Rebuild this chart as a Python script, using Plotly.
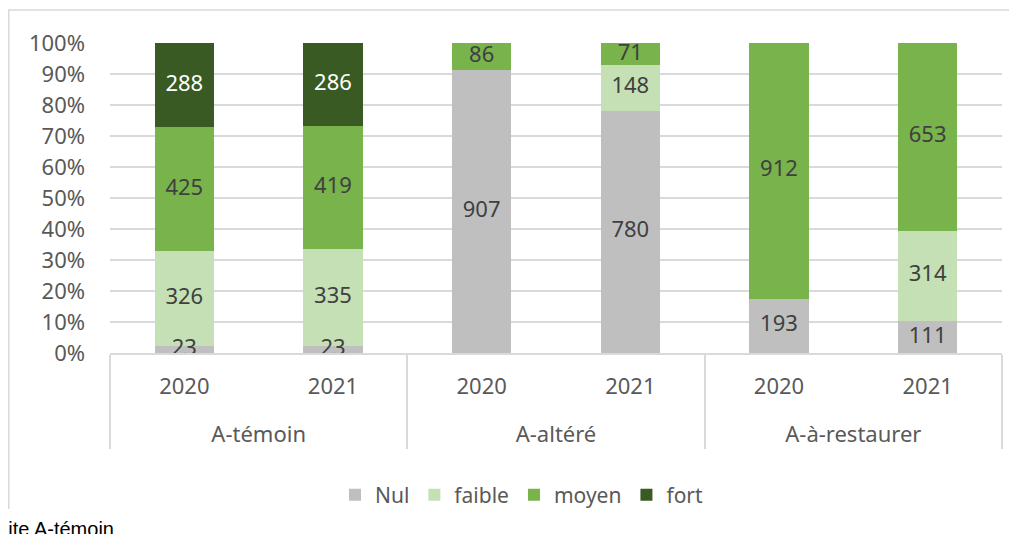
import plotly.graph_objects as go

groups = ["A-témoin", "A-témoin", "A-altéré", "A-altéré", "A-à-restaurer", "A-à-restaurer"]
years = ["2020", "2021", "2020", "2021", "2020", "2021"]

series_names = ["Nul", "faible", "moyen", "fort"]
nul = [23, 23, 907, 780, 193, 111]
faible = [326, 335, 0, 148, 0, 314]
moyen = [425, 419, 86, 71, 912, 653]
fort = [288, 286, 0, 0, 0, 0]
y_ticks = [0, 10, 20, 30, 40, 50, 60, 70, 80, 90, 100]
y_tick_labels = [f"{v}%" for v in y_ticks]

colors = ["#bfbfbf", "#c5e0b4", "#78b34b", "#3a5a24"]
text_colors = ["#404040", "#404040", "#404040", "#ffffff"]
FONT = "Noto Sans"
FS = 22

# The page body adds an 8px offset; figure coordinates below are page coords - 8
W, H = 1009, 526
L, R, T, B = 102, 994, 35, 345

all_series = [nul, faible, moyen, fort]
totals = [sum(s[i] for s in all_series) for i in range(len(years))]

# year labels get an empty second line so the group labels sit lower
year_cats = [y + "<br> " for y in years]

fig = go.Figure()
for name, vals, c in zip(series_names, all_series, colors):
    fig.add_trace(go.Bar(
        name=name,
        x=[groups, year_cats],
        y=vals,
        marker=dict(color=c, line=dict(width=0)),
        hoverinfo="skip",
    ))

# data labels, centred in each segment (percent positions computed from the data)
lab_x0, lab_x1, lab_y, lab_t, lab_c = [], [], [], [], []
bottom = [0.0] * len(years)
for vals, tc in zip(all_series, text_colors):
    for i, v in enumerate(vals):
        p = 100.0 * v / totals[i]
        if v:
            lab_x0.append(groups[i])
            lab_x1.append(year_cats[i])
            lab_y.append(bottom[i] + p / 2)
            lab_t.append(str(v))
            lab_c.append(tc)
        bottom[i] += p

fig.add_trace(go.Scatter(
    x=[lab_x0, lab_x1], y=lab_y, text=lab_t, mode="text",
    textposition="middle center",
    textfont=dict(color=lab_c, size=FS, family=FONT),
    showlegend=False, hoverinfo="skip", cliponaxis=False,
))


def px(x):
    return (x - L) / (R - L)


def py(y):
    return (B - y) / (B - T)


fig.update_layout(
    width=W, height=H,
    barmode="stack", barnorm="percent",
    bargap=0.6,
    margin=dict(l=L, r=W - R, t=T, b=H - B, pad=0),
    plot_bgcolor="white", paper_bgcolor="white",
    font=dict(family=FONT, size=FS, color="#595959"),
    showlegend=True,
    legend=dict(orientation="h", x=px(514), xanchor="center", y=py(487), yanchor="middle",
                font=dict(size=21, color="#595959", family=FONT),
                traceorder="normal"),
    xaxis=dict(
        type="multicategory",
        showline=True, linecolor="#d9d9d9", linewidth=1.5,
        showdividers=True, dividercolor="#d9d9d9", dividerwidth=1.5,
        tickfont=dict(size=FS, color="#595959", family=FONT),
        ticks="", ticklabelstandoff=13,
        showgrid=False,
    ),
    yaxis=dict(
        range=[0, 100], tickvals=y_ticks, ticktext=y_tick_labels,
        showgrid=True, gridcolor="#d9d9d9", gridwidth=1.5,
        zeroline=False, showline=False, ticks="",
        tickfont=dict(size=FS, color="#595959", family=FONT),
        ticklabelstandoff=24,
    ),
    shapes=[
        dict(type="line", xref="paper", yref="paper", x0=px(0), x1=px(1030), y0=py(2), y1=py(2),
             line=dict(color="#d9d9d9", width=1.5)),
        dict(type="line", xref="paper", yref="paper", x0=px(0.8), x1=px(0.8), y0=py(2), y1=py(501),
             line=dict(color="#d9d9d9", width=1.5)),
    ],
    annotations=[
        dict(text="Site A-témoin", xref="paper", yref="paper", x=px(-15), y=py(508),
             xanchor="left", yanchor="top", showarrow=False,
             font=dict(size=20, color="#000000", family="Liberation Sans")),
    ],
)

fig.write_html("out.html")
